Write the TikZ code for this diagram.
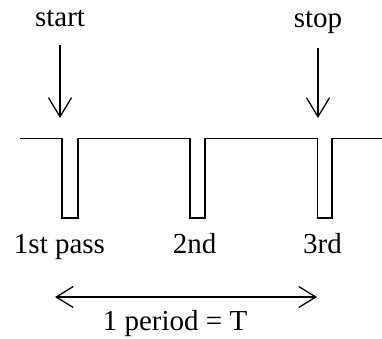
\documentclass[tikz,border=0pt]{standalone}
\usepackage{fontspec}
\setmainfont{Liberation Serif}
\usetikzlibrary{arrows.meta}
\begin{document}
\begin{tikzpicture}[x=1pt,y=-1pt,
  lbl/.style={anchor=base,inner sep=0pt,font=\fontsize{29}{32}\selectfont},
  wire/.style={line width=1.3pt,line join=miter},
  marker/.style={line width=1.3pt,-{Straight Barb[length=19pt,width=23pt,line width=1.3pt]}},
  span/.style={line width=1.3pt,{Straight Barb[length=17pt,width=21pt,line width=1.3pt]}-{Straight Barb[length=17pt,width=21pt,line width=1.3pt]}}]
\useasboundingbox[fill=white] (0,0) rectangle (382,339);
% waveform
\draw[wire] (19.5,138.5) -- (62,138.5) -- (62,218) -- (78,218) -- (78,138.5)
  -- (190,138.5) -- (190,218) -- (205,218) -- (205,138.5)
  -- (317.5,138.5) -- (317.5,218) -- (332,218) -- (332,138.5) -- (382,138.5);
% labels
\node[lbl] (start) at (60,27) {start};
\node[lbl] (stop) at (318,28) {stop};
\node[lbl] (p1) at (59.5,253) {1st pass};
\node[lbl] (p2) at (194.5,253) {2nd};
\node[lbl] (p3) at (322.5,253) {3rd};
\node[lbl] (per) at (175,330) {1 period = T};
% arrows
\coordinate (sa) at (60,45);
\coordinate (sb) at (60,118);
\coordinate (ta) at (318,48);
\coordinate (tb) at (318,118);
\draw[marker] (sa) -- (sb);
\draw[marker] (ta) -- (tb);
\coordinate (la) at (55,297);
\coordinate (lb) at (317,297);
\draw[span] (la) -- (lb);
\end{tikzpicture}
\end{document}
